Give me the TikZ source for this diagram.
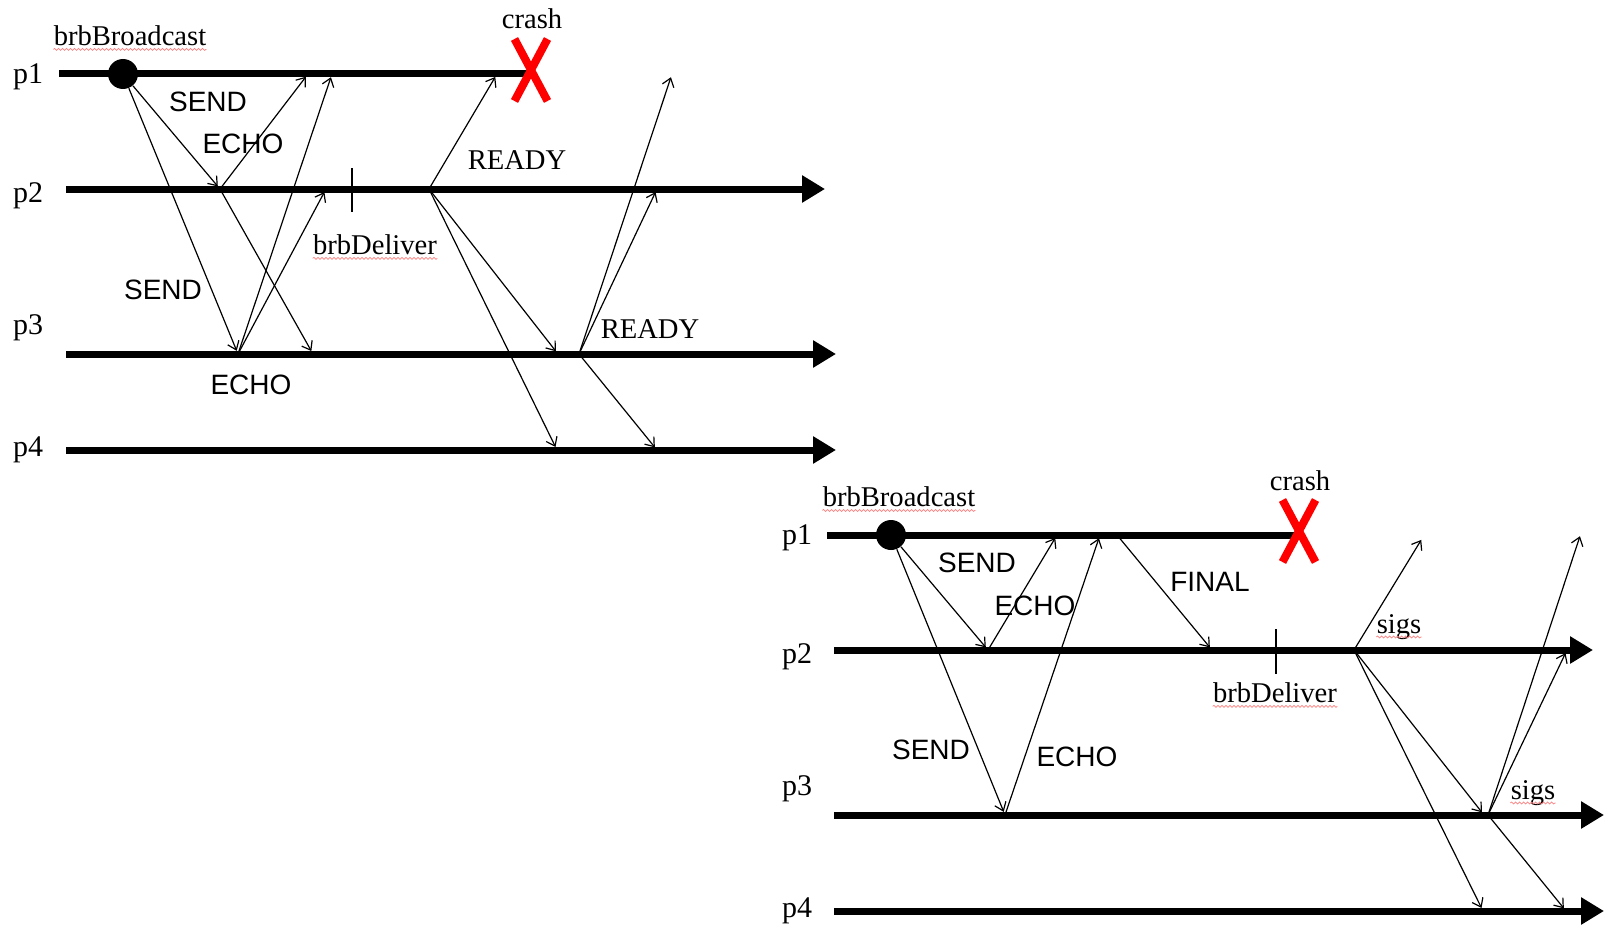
\documentclass[tikz,border=0pt]{standalone}
\usepackage{fontspec}
\setmainfont{Liberation Serif}
\setsansfont{Liberation Sans}
\usepackage{tikz}
\usetikzlibrary{arrows.meta,calc,shapes.misc,decorations.pathmorphing}
\tikzset{
  lane/.style={line width=3.5pt},
  lanea/.style={lane, -{Triangle[length=11.5pt,width=13pt]}},
  msg/.style={line width=0.6pt, shorten >=1.7pt, -{Straight Barb[length=4pt,width=6pt]}},
  ev/.style={circle, fill, inner sep=0pt, minimum size=15pt},
  crashx/.style={cross out, draw=red, line width=4pt, inner sep=0pt, outer sep=0pt, minimum width=16.5pt, minimum height=31pt},
  dtick/.style={line width=0.9pt},
  pl/.style={font=\fontsize{15}{18}\selectfont, inner sep=0pt},
  sl/.style={font=\fontsize{14.3}{17}\selectfont, inner sep=0pt},
  ml/.style={font=\sffamily\fontsize{14}{17}\selectfont, inner sep=0pt},
  squig/.style={draw=red!50, line width=0.35pt, decorate, decoration={snake, amplitude=0.5pt, segment length=2pt}}
}

\begin{document}
\begin{tikzpicture}[x=0.5pt, y=-0.5pt]
\useasboundingbox (0,0) rectangle (1616,931);

% bracha broadcast
\coordinate (a1) at (59,74);   \coordinate (a1end) at (530,74);
\coordinate (a2) at (66,189);  \coordinate (a2end) at (825,189);
\coordinate (a3) at (66,354);  \coordinate (a3end) at (836,354);
\coordinate (a4) at (66,450);  \coordinate (a4end) at (836,450);
\draw[lane] (a1) -- (a1end);
\draw[lanea] (a2) -- (a2end);
\draw[lanea] (a3) -- (a3end);
\draw[lanea] (a4) -- (a4end);
\node[pl] (ap1) at (28,77) {p1};
\node[pl] (ap2) at (28,196) {p2};
\node[pl] (ap3) at (28,328) {p3};
\node[pl] (ap4) at (28,450) {p4};

\node[ev] (abc) at (123,74) {};
\coordinate (a2e) at (220,189);  \coordinate (a3e) at (238,354);
\coordinate (a1r1) at (308,74);  \coordinate (a1r2) at (332,74);
\coordinate (a3r) at (313,354);  \coordinate (a2r) at (326,189);
\coordinate (a2d) at (352,189);
\coordinate (a2y) at (429,189);  \coordinate (a1y) at (497,74);
\coordinate (a3y) at (558,354);  \coordinate (a4y) at (557,450);
\coordinate (a3z) at (579,354);  \coordinate (a1z) at (672,74);
\coordinate (a2z) at (657,189);  \coordinate (a4z) at (657,450);

\draw[msg] (abc) -- (a2e);
\draw[msg] (abc) -- (a3e);
\draw[msg] (a2e) -- (a1r1);
\draw[msg] (a2e) -- (a3r);
\draw[msg] (a3e) -- (a1r2);
\draw[msg] (a3e) -- (a2r);
\draw[msg] (a2y) -- (a1y);
\draw[msg] (a2y) -- (a3y);
\draw[msg] (a2y) -- (a4y);
\draw[msg] (a3z) -- (a1z);
\draw[msg] (a3z) -- (a2z);
\draw[msg] (a3z) -- (a4z);
\draw[dtick] ($(a2d)+(0,-21)$) -- ($(a2d)+(0,23)$);
\node[crashx] (ax) at (531,70) {};

\node[sl] (abb) at (130,36) {brbBroadcast};
\node[sl] (acr) at (532,19) {crash};
\node[ml] (asd1) at (208,102) {SEND};
\node[ml] (aec1) at (243,144) {ECHO};
\node[sl] (ard1) at (517,160) {READY};
\node[sl] (adl) at (375,245) {brbDeliver};
\node[ml] (asd2) at (163,290) {SEND};
\node[sl] (ard2) at (650,329) {READY};
\node[ml] (aec2) at (251,385) {ECHO};
\draw[squig] ([yshift=-1.8pt]abb.base west) -- ([yshift=-1.8pt]abb.base east);
\draw[squig] ([yshift=-1.8pt]adl.base west) -- ([yshift=-1.8pt]adl.base east);

% signed echo broadcast
\coordinate (b1) at (827,535);  \coordinate (b1end) at (1298,535);
\coordinate (b2) at (834,650);  \coordinate (b2end) at (1593,650);
\coordinate (b3) at (834,815);  \coordinate (b3end) at (1604,815);
\coordinate (b4) at (834,911);  \coordinate (b4end) at (1604,911);
\draw[lane] (b1) -- (b1end);
\draw[lanea] (b2) -- (b2end);
\draw[lanea] (b3) -- (b3end);
\draw[lanea] (b4) -- (b4end);
\node[pl] (bp1) at (797,538) {p1};
\node[pl] (bp2) at (797,657) {p2};
\node[pl] (bp3) at (797,789) {p3};
\node[pl] (bp4) at (797,911) {p4};

\node[ev] (bbc) at (891,535) {};
\coordinate (b2e) at (988,650);   \coordinate (b3e) at (1005,815);
\coordinate (b1r1) at (1057,535); \coordinate (b1r2) at (1100,535);
\coordinate (b1f) at (1117,535);  \coordinate (b2f) at (1212,650);
\coordinate (b2d) at (1276,650);
\coordinate (b2s) at (1354,650);  \coordinate (b1s) at (1423,537);
\coordinate (b3s) at (1484,815);  \coordinate (b4s) at (1483,911);
\coordinate (b3t) at (1488,815);  \coordinate (b1t) at (1581,533);
\coordinate (b2t) at (1567,650);  \coordinate (b4t) at (1566,911);

\draw[msg] (bbc) -- (b2e);
\draw[msg] (bbc) -- (b3e);
\draw[msg] (b2e) -- (b1r1);
\draw[msg] (b3e) -- (b1r2);
\draw[msg] (b1f) -- (b2f);
\draw[msg] (b2s) -- (b1s);
\draw[msg] (b2s) -- (b3s);
\draw[msg] (b2s) -- (b4s);
\draw[msg] (b3t) -- (b1t);
\draw[msg] (b3t) -- (b2t);
\draw[msg] (b3t) -- (b4t);
\draw[dtick] ($(b2d)+(0,-21)$) -- ($(b2d)+(0,24)$);
\node[crashx] (bx) at (1299,531) {};

\node[sl] (bbb) at (899,497) {brbBroadcast};
\node[sl] (bcr) at (1300,481) {crash};
\node[ml] (bsd1) at (977,563) {SEND};
\node[ml] (bec1) at (1035,606) {ECHO};
\node[ml] (bfn) at (1210,582) {FINAL};
\node[sl] (bdl) at (1275,693) {brbDeliver};
\node[sl] (bsg1) at (1399,627) {sigs};
\node[ml] (bsd2) at (931,750) {SEND};
\node[ml] (bec2) at (1077,757) {ECHO};
\node[sl] (bsg2) at (1533,793) {sigs};
\draw[squig] ([yshift=-1.8pt]bbb.base west) -- ([yshift=-1.8pt]bbb.base east);
\draw[squig] ([yshift=-1.8pt]bdl.base west) -- ([yshift=-1.8pt]bdl.base east);
\draw[squig] ([yshift=-1.8pt]bsg1.base west) -- ([yshift=-1.8pt]bsg1.base east);
\draw[squig] ([yshift=-1.8pt]bsg2.base west) -- ([yshift=-1.8pt]bsg2.base east);
\end{tikzpicture}
\end{document}
